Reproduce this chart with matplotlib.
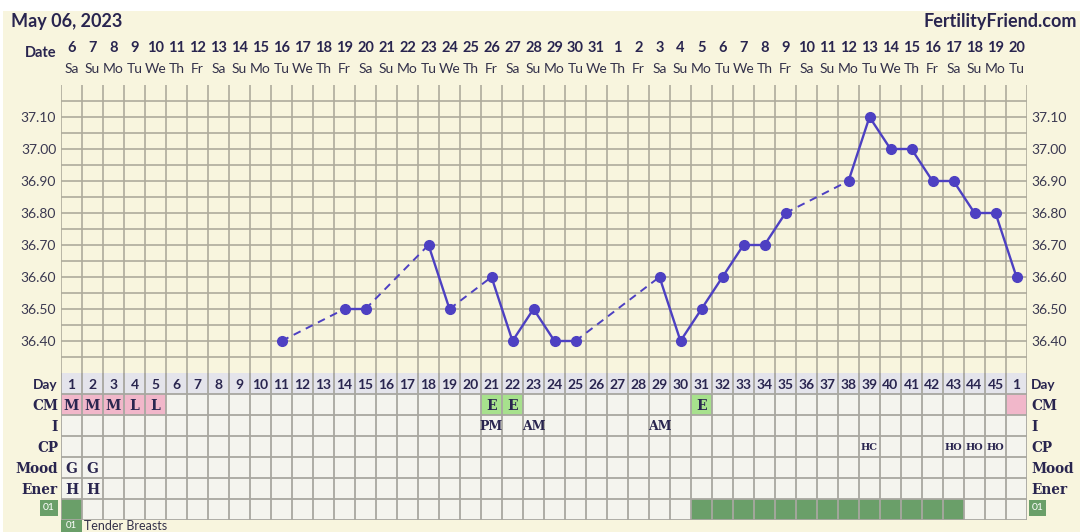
import matplotlib
matplotlib.use("Agg")
import matplotlib.pyplot as plt
from matplotlib.patches import Rectangle
from matplotlib.transforms import blended_transform_factory

# ---------------- data ----------------
title = "May 06, 2023"
site = "FertilityFriend.com"
date_labels = ["6", "7", "8", "9", "10", "11", "12", "13", "14", "15", "16", "17", "18", "19", "20",
               "21", "22", "23", "24", "25", "26", "27", "28", "29", "30", "31", "1", "2", "3", "4",
               "5", "6", "7", "8", "9", "10", "11", "12", "13", "14", "15", "16", "17", "18", "19", "20"]
weekday_labels = ["Sa", "Su", "Mo", "Tu", "We", "Th", "Fr"] * 6 + ["Sa", "Su", "Mo", "Tu"]
cycle_day_labels = [str(d) for d in range(1, 46)] + ["1"]

temp_days = [11, 14, 15, 18, 19, 21, 22, 23, 24, 25, 29, 30, 31, 32, 33, 34, 35,
             38, 39, 40, 41, 42, 43, 44, 45, 46]
temps = [36.40, 36.50, 36.50, 36.70, 36.50, 36.60, 36.40, 36.50, 36.40, 36.40, 36.60, 36.40,
         36.50, 36.60, 36.70, 36.70, 36.80, 36.90, 37.10, 37.00, 37.00, 36.90, 36.90, 36.80,
         36.80, 36.60]
ytick_values = [36.40, 36.50, 36.60, 36.70, 36.80, 36.90, 37.00, 37.10]

row_names = ["Day", "CM", "I", "CP", "Mood", "Ener", "01"]
cm_entries = {1: "M", 2: "M", 3: "M", 4: "L", 5: "L", 21: "E", 22: "E", 31: "E", 46: ""}
cm_colors = {"M": "pink", "L": "pink", "E": "green", "": "pink"}
i_entries = {21: "PM", 23: "AM", 29: "AM"}
cp_entries = {39: "HC", 43: "HO", 44: "HO", 45: "HO"}
mood_entries = {1: "G", 2: "G"}
ener_entries = {1: "H", 2: "H"}
symptom_days = [1, 31, 32, 33, 34, 35, 36, 37, 38, 39, 40, 41, 42, 43]
symptom_code = "01"
symptom_name = "Tender Breasts"

# ---------------- style ----------------
W, H = 1080, 532
BG = "#f8f5de"
GRID = "#aeab9c"
CELL = "#f4f4ee"
DAYROW = "#e4e4eb"
PINK = "#f1b7ca"
LGREEN = "#a7e18d"
DGREEN = "#6a9f69"
LINE = "#4d40c2"
TXT = "#29254f"
SANS = ["Lato", "DejaVu Sans"]
SERIF = ["DejaVu Serif"]

fig = plt.figure(figsize=(W / 100, H / 100), dpi=100, facecolor="white")


def fx(px):
    return px / W


def fy(py):
    return 1 - py / H


fig.patches.append(Rectangle((fx(3), 0), 1 - fx(3), fy(11), transform=fig.transFigure,
                             facecolor=BG, edgecolor="none", zorder=-5))

n = len(date_labels)
x0, x1 = 61, 1027

# ---------------- temperature chart ----------------
ax = fig.add_axes([fx(x0), fy(373), (x1 - x0) / W, (373 - 85) / H])
ax.set_facecolor(BG)
ax.set_xlim(0.5, n + 0.5)
ax.set_ylim(36.30, 37.20)
for s in ax.spines.values():
    s.set_visible(False)
grid_levels = [36.30 + 0.05 * k for k in range(1, 18)]
ax.hlines(grid_levels, 0.5, n + 0.5, colors=GRID, linewidth=1.2, zorder=1)
ax.vlines([k + 0.5 for k in range(0, n + 1)], 36.30, 37.20, colors=GRID, linewidth=1.2, zorder=1)
ax.set_xticks([])
ax.set_yticks(ytick_values)
ax.set_yticklabels([f"{v:.2f}" for v in ytick_values])
ax.tick_params(axis="y", length=0, pad=3.5, labelleft=True, labelright=True,
               labelsize=10, labelcolor="#3a3850")
for t in ax.yaxis.get_major_ticks():
    t.label1.set_family(SANS)
    t.label2.set_family(SANS)

# segments: solid for consecutive days, dashed across gaps
for k in range(len(temp_days) - 1):
    solid = temp_days[k + 1] - temp_days[k] == 1
    ax.plot(temp_days[k:k + 2], temps[k:k + 2], color=LINE, linewidth=1.7 if solid else 1.4,
            linestyle="-" if solid else (0, (4, 3)), zorder=3, solid_capstyle="round")
ax.plot(temp_days, temps, linestyle="none", marker="o", markersize=7, color=LINE, zorder=4)

# header
tr = blended_transform_factory(ax.transData, fig.transFigure)
for k in range(n):
    ax.text(k + 1, fy(48), date_labels[k], transform=tr, ha="center", va="center",
            fontsize=10.5, fontweight="bold", color=TXT, family=SANS)
    ax.text(k + 1, fy(69), weekday_labels[k], transform=tr, ha="center", va="center",
            fontsize=10, color="#33314a", family=SANS)
fig.text(fx(57), fy(53), "Date", ha="right", va="center", fontsize=10.5, fontweight="bold",
         color=TXT, family=SANS)
fig.text(fx(11), fy(22), title, ha="left", va="center", fontsize=13, fontweight="bold",
         color=TXT, family=SANS)
fig.text(fx(1077), fy(22), site, ha="right", va="center", fontsize=13, fontweight="bold",
         color=TXT, family=SANS)

# ---------------- table ----------------
nrows = len(row_names)
tax = fig.add_axes([fx(x0), fy(373 + 21 * nrows), (x1 - x0) / W, 21 * nrows / H])
tax.set_xlim(0.5, n + 0.5)
tax.set_ylim(nrows, 0)
tax.axis("off")

color_map = {"pink": PINK, "green": LGREEN}
for d in range(1, n + 1):
    for r in range(nrows):
        fc = CELL
        if r == 0:
            fc = DAYROW
        elif r == 1 and d in cm_entries:
            fc = color_map[cm_colors[cm_entries[d]]]
        elif r == 6 and d in symptom_days:
            fc = DGREEN
        tax.add_patch(Rectangle((d - 0.5, r), 1, 1, facecolor=fc, edgecolor="none", zorder=1))
tax.hlines(range(1, nrows + 1), 0.5, n + 0.5, colors="#a8a7a0", linewidth=1.3, zorder=2)
tax.vlines([k + 0.5 for k in range(0, n + 1)], 0, nrows, colors="#a8a7a0", linewidth=1.3, zorder=2)

for d in range(1, n + 1):
    tax.text(d, 0.55, cycle_day_labels[d - 1], ha="center", va="center", fontsize=10,
             fontweight="bold", color=TXT, family=SANS, zorder=3)
row_data = [(1, cm_entries, 10), (2, i_entries, 9), (3, cp_entries, 7),
            (4, mood_entries, 10), (5, ener_entries, 10)]
for r, entries, fs in row_data:
    for d, v in entries.items():
        if v:
            tax.text(d, r + 0.55, v, ha="center", va="center", fontsize=fs, fontweight="bold",
                     color=TXT, family=SERIF, zorder=3)

ttr = blended_transform_factory(fig.transFigure, tax.transData)
for r, name in enumerate(row_names):
    fam = SANS if r == 0 else SERIF
    if r == 6:
        for xl, xr in ((40, 58), (1029, 1046)):
            fig.patches.append(Rectangle((fx(xl), fy(516)), (xr - xl) / W, 16 / H,
                                         transform=fig.transFigure, facecolor=DGREEN,
                                         edgecolor="none", zorder=2))
            fig.text(fx((xl + xr) / 2), fy(508), name, ha="center", va="center", fontsize=7.5,
                     color="white", family=SANS, zorder=3)
        continue
    tax.text(fx(58), r + 0.55, name, transform=ttr, ha="right", va="center", fontsize=9.8,
             fontweight="bold", color=TXT, family=fam)
    tax.text(fx(1031), r + 0.55, name, transform=ttr, ha="left", va="center", fontsize=9.8,
             fontweight="bold", color=TXT, family=fam)

# legend at bottom
fig.patches.append(Rectangle((fx(61), 0), 21 / W, 12 / H, transform=fig.transFigure,
                             facecolor=DGREEN, edgecolor="none", zorder=2))
fig.text(fx(71.5), fy(526), symptom_code, ha="center", va="center", fontsize=7, color="white",
         family=SANS, zorder=3)
fig.text(fx(84), fy(526), symptom_name, ha="left", va="center", fontsize=9, color="#33314a",
         family=SANS)

fig.savefig("out.png", dpi=100, facecolor="white")
